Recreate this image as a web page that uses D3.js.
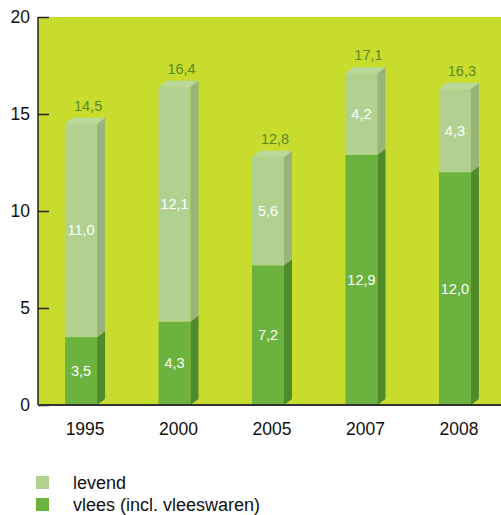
<!DOCTYPE html>
<html><head><meta charset="utf-8">
<script src="https://cdn.jsdelivr.net/npm/d3@7"></script>
<style>body{margin:0;background:#fff}svg{display:block;font-family:"Liberation Sans",Arial,sans-serif}</style>
</head><body><svg id="c" width="501" height="515"></svg>
<script>
const years = ["1995","2000","2005","2007","2008"];
const vlees = [3.5, 4.3, 7.2, 12.9, 12.0];
const levend = [11.0, 12.1, 5.6, 4.2, 4.3];
const totals = [14.5, 16.4, 12.8, 17.1, 16.3];
const yTicks = [0, 5, 10, 15, 20];
const seriesNames = ["levend", "vlees (incl. vleeswaren)"];

const fmt = v => v.toFixed(1).replace(".", ",");
const svg = d3.select("#c");
const L = 38, R = 501, T = 17, B = 405;
const dx = 8, dy = 6;
const y = d3.scaleLinear().domain([0, 20]).range([B, T]);
const x = d3.scaleBand().domain(years).range([L, 506]).paddingInner(0.572).paddingOuter(0.29);
const fw = x.bandwidth() - dx;

const col = {
  bg: "#c8dc2e",
  lightF: "#b0d190", lightS: "#98b47a", lightT: "#b9d89c",
  darkF: "#6cb23e", darkS: "#4f8a2d",
  total: "#5a8a22"
};

svg.append("rect").attr("x", L).attr("y", T).attr("width", R - L).attr("height", B - T).attr("fill", col.bg);

years.forEach((yr, i) => {
  const x0 = x(yr), x1 = x0 + fw;
  const segs = [
    {v0: 0, v1: vlees[i], f: col.darkF, s: col.darkS},
    {v0: vlees[i], v1: vlees[i] + levend[i], f: col.lightF, s: col.lightS}
  ];
  const g = svg.append("g");
  segs.forEach(sg => {
    const yb = y(sg.v0), yt = y(sg.v1);
    g.append("rect").attr("x", x0).attr("y", yt).attr("width", fw).attr("height", yb - yt).attr("fill", sg.f);
    g.append("path").attr("d", `M${x1},${yb}L${x1+dx},${yb-dy}L${x1+dx},${yt-dy}L${x1},${yt}Z`).attr("fill", sg.s);
    g.append("text").attr("x", x0 + fw/2).attr("y", (yb + yt)/2).attr("dy", "0.35em")
      .attr("text-anchor", "middle").attr("fill", "#fff").attr("font-size", 14.5).text(fmt(sg.v1 - sg.v0));
  });
  const yt = y(totals[i]);
  g.append("path").attr("d", `M${x0},${yt}L${x0+dx},${yt-dy}L${x1+dx},${yt-dy}L${x1},${yt}Z`).attr("fill", col.lightT);
  g.append("text").attr("x", x0 + fw/2 + 7).attr("y", yt - 13).attr("text-anchor", "middle")
    .attr("fill", col.total).attr("font-size", 14.5).text(fmt(totals[i]));
});

// axes
const ya = svg.append("g").attr("transform", `translate(${L},0)`)
  .call(d3.axisLeft(y).tickValues(yTicks).tickSize(-11).tickPadding(8).tickFormat(d => d));
ya.select(".domain").remove();
ya.selectAll("line").attr("stroke", "#222").attr("stroke-width", 1.5);
ya.selectAll("text").attr("font-size", 17.5).attr("fill", "#111").attr("font-family", "Liberation Sans, Arial, sans-serif");
svg.append("line").attr("x1", L).attr("x2", L).attr("y1", T).attr("y2", B).attr("stroke", "#222").attr("stroke-width", 1.5);
svg.append("line").attr("x1", L).attr("x2", R).attr("y1", B).attr("y2", B).attr("stroke", "#333").attr("stroke-width", 2);

const xa = svg.append("g").attr("transform", `translate(0,${B})`)
  .call(d3.axisBottom(x).tickSize(0).tickPadding(18));
xa.select(".domain").remove();
xa.selectAll("text").attr("font-size", 17.5).attr("fill", "#111").attr("font-family", "Liberation Sans, Arial, sans-serif");

// legend
const lg = svg.append("g");
[col.lightF, col.darkF].forEach((c, i) => {
  lg.append("rect").attr("x", 36).attr("y", 476 + i * 22).attr("width", 13).attr("height", 13).attr("fill", c);
  lg.append("text").attr("x", 73).attr("y", 489 + i * 22).attr("font-size", 18).attr("fill", "#111").text(seriesNames[i]);
});
</script></body></html>
